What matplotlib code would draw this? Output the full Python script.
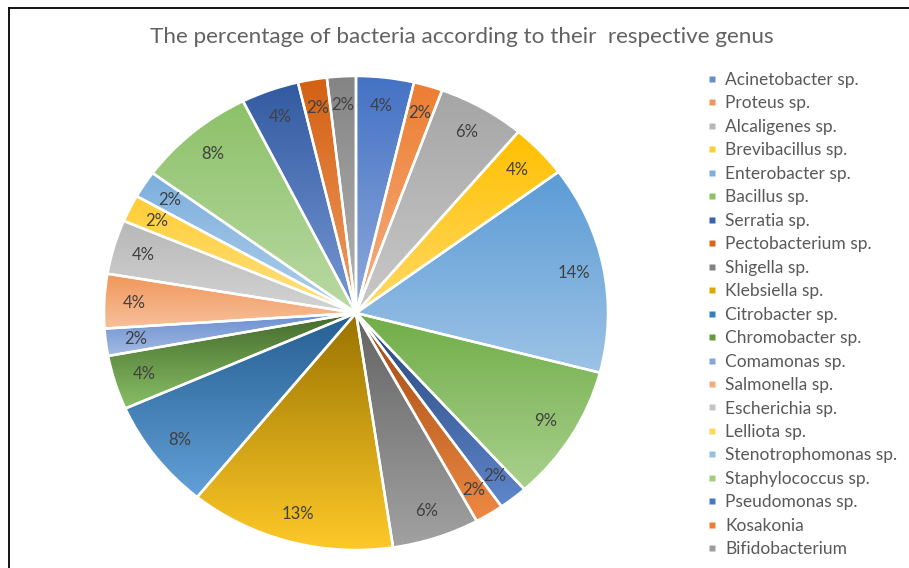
from __future__ import annotations

import colorsys

import matplotlib

matplotlib.use("Agg")
import matplotlib.pyplot as plt
from matplotlib.colors import to_rgb
from matplotlib.lines import Line2D
import numpy as np


GENUS = [
    "Acinetobacter sp.",
    "Proteus sp.",
    "Alcaligenes sp.",
    "Brevibacillus sp.",
    "Enterobacter sp.",
    "Bacillus sp.",
    "Serratia sp.",
    "Pectobacterium sp.",
    "Shigella sp.",
    "Klebsiella sp.",
    "Citrobacter sp.",
    "Chromobacter sp.",
    "Comamonas sp.",
    "Salmonella sp.",
    "Escherichia sp.",
    "Lelliota sp.",
    "Stenotrophomonas sp.",
    "Staphylococcus sp.",
    "Pseudomonas sp.",
    "Kosakonia",
    "Bifidobacterium",
]

# share of isolates (%)
SHARE = [
    3.7, 1.85, 5.6, 3.7, 14.2, 9.3, 1.85, 1.85, 5.6, 13.2, 7.55,
    3.7, 1.85, 3.7, 3.7, 1.85, 1.85, 7.55, 3.7, 1.85, 1.85,
]

# Office palette: accents, darker, lighter, darker again
COLORS = [
    "#4472C4", "#ED7D31", "#A5A5A5", "#FFC000", "#5B9BD5", "#70AD47",
    "#264478", "#9E480E", "#636363", "#997300", "#255E91", "#43682B",
    "#698ED0", "#F1975A", "#B7B7B7", "#FFCD33", "#7CAFDD", "#8CC168",
    "#335AA1", "#D26012", "#848484",
]

TITLE = "The percentage of bacteria according to their  respective genus"

plt.rcParams["font.family"] = ["Lato", "DejaVu Sans"]


def lighten(color: str, amount: float = 0.4) -> tuple[float, float, float]:
    r, g, b = to_rgb(color)
    h, l, s = colorsys.rgb_to_hls(r, g, b)
    l = l + (1.0 - l) * amount
    return colorsys.hls_to_rgb(h, l, s)


def gradient_fill(ax, wedge, color: str) -> None:
    # vertical gradient over the slice's own bounding box, dark at top
    verts = wedge.get_patch_transform().transform(wedge.get_path().vertices)
    x0, y0 = verts.min(axis=0)
    x1, y1 = verts.max(axis=0)
    top = np.array(to_rgb(color))
    bottom = np.array(lighten(color))
    t = np.linspace(0.0, 1.0, 256)[:, None]
    img = (top + (bottom - top) * t)[:, None, :]
    im = ax.imshow(
        img,
        extent=(x0, x1, y0, y1),
        origin="upper",
        aspect="auto",
        interpolation="bilinear",
        zorder=1,
    )
    im.set_clip_path(wedge)


def main() -> None:
    fig = plt.figure(figsize=(9.09, 5.68), dpi=100)
    W, H = 909, 568

    # pie is slightly wider than tall in the reference
    ax = fig.add_axes([104 / W, 18 / H, 504 / W, 474 / H])

    wedges, _texts, autotexts = ax.pie(
        SHARE,
        colors=COLORS,
        startangle=90,
        counterclock=False,
        radius=1.0,
        autopct="%1.0f%%",
        pctdistance=0.88,
        wedgeprops=dict(edgecolor="white", linewidth=1.8),
        textprops=dict(color="#404040", fontsize=12),
    )

    for wedge, color in zip(wedges, COLORS):
        gradient_fill(ax, wedge, color)
        wedge.set_facecolor("none")
        wedge.set_zorder(2)
    for txt in autotexts:
        txt.set_zorder(3)

    ax.set_aspect("auto")
    ax.set_xlim(-1.0, 1.0)
    ax.set_ylim(-1.0, 1.0)
    ax.axis("off")

    fig.text(
        462 / W,
        1 - 37 / H,
        TITLE,
        ha="center",
        va="center",
        fontsize=16.2,
        color="#626262",
    )

    handles = [
        Line2D([], [], marker="s", linestyle="none", markersize=5,
               markerfacecolor=lighten(c, 0.2), markeredgecolor="none")
        for c in COLORS
    ]
    fig.legend(
        handles,
        GENUS,
        loc="upper left",
        bbox_to_anchor=(707 / W, 1 - 72 / H),
        frameon=False,
        fontsize=12.5,
        labelcolor="#595959",
        handlelength=0.55,
        handletextpad=0.5,
        labelspacing=0.43,
        borderaxespad=0,
        borderpad=0,
    )

    # chart frame, cropped to the top and left edges
    fig.add_artist(Line2D([9 / W, 1], [1 - 8 / H, 1 - 8 / H], color="black", linewidth=1.3))
    fig.add_artist(Line2D([9 / W, 9 / W], [0, 1 - 8 / H], color="black", linewidth=1.3))

    fig.savefig("out.png", dpi=100)
    plt.close(fig)


if __name__ == "__main__":
    main()
